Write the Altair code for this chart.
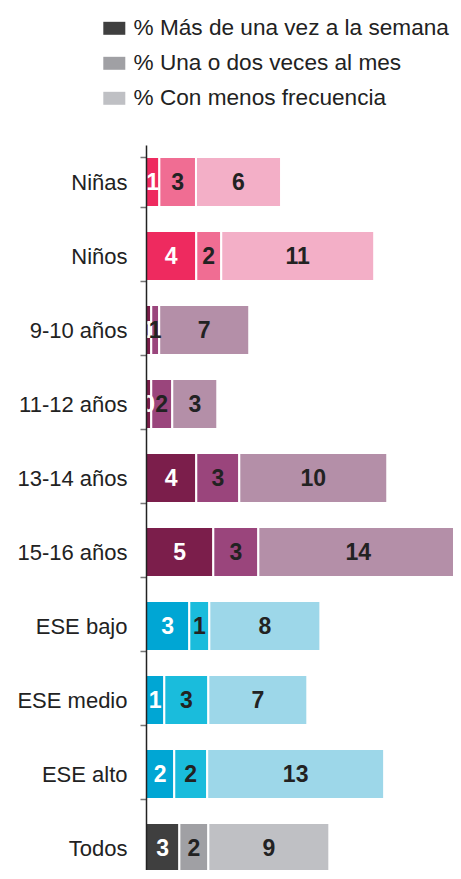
import altair as alt
import pandas as pd

categories = ["Niñas", "Niños", "9-10 años", "11-12 años", "13-14 años",
              "15-16 años", "ESE bajo", "ESE medio", "ESE alto", "Todos"]
series = ["% Más de una vez a la semana", "% Una o dos veces al mes",
          "% Con menos frecuencia"]

v_semana = [0.94, 3.54, 0.37, 0.37, 3.54, 4.74, 3.05, 1.29, 1.99, 2.35]
v_mes = [2.58, 1.76, 0.56, 1.48, 3.03, 3.17, 1.41, 3.10, 2.32, 2.04]
v_menos = [5.99, 10.77, 6.34, 3.17, 10.42, 14.08, 7.82, 6.97, 12.46, 8.52]

lab_semana = ["1", "4", "1", "0", "4", "5", "3", "1", "2", "3"]
lab_mes = ["3", "2", "1", "2", "3", "3", "1", "3", "2", "2"]
lab_menos = ["6", "11", "7", "3", "10", "14", "8", "7", "13", "9"]

groups = ["sexo", "sexo", "edad", "edad", "edad", "edad", "ese", "ese", "ese", "todos"]
group_colors = {
    "sexo": ["#ee2a5f", "#f06d93", "#f3afc7"],
    "edad": ["#7b1e4b", "#9a457c", "#b48fa8"],
    "ese": ["#00a6d4", "#1abcdc", "#9dd7e9"],
    "todos": ["#3f3f3f", "#a0a0a4", "#bfc0c4"],
}
legend_colors = ["#3f3f3f", "#a0a0a4", "#bfc0c4"]
text_colors = ["#ffffff", "#222222", "#222222"]

rows = []
vals = [v_semana, v_mes, v_menos]
labs = [lab_semana, lab_mes, lab_menos]
for i, cat in enumerate(categories):
    for s in range(3):
        rows.append({
            "categoria": cat,
            "serie": series[s],
            "orden": s,
            "valor": vals[s][i],
            "etiqueta": labs[s][i],
            "color": group_colors[groups[i]][s],
            "tcolor": text_colors[s],
        })
df = pd.DataFrame(rows)

FONT = "Liberation Sans"

base = alt.Chart(df).transform_stack(
    stack="valor", groupby=["categoria"], sort=[alt.SortField("orden")],
    as_=["v0", "v1"]
).transform_calculate(mid="(datum.v0 + datum.v1) / 2")

yenc = alt.Y(
    "categoria:N", sort=categories, title=None,
    scale=alt.Scale(paddingInner=0.324, paddingOuter=0.162, range=[0, 740]),
    axis=alt.Axis(
        labelFont=FONT, labelFontSize=22, labelColor="#222222",
        labelPadding=13, tickSize=6, tickColor="#777777", tickWidth=1.5,
        domainColor="#222222", domainWidth=1.5, tickBand="extent",
        zindex=1, labelLimit=200,
    ),
)
xscale = alt.Scale(domain=[0, 21.62], nice=False, zero=True)

bars = base.mark_bar(stroke="white", strokeWidth=2).encode(
    x=alt.X("v0:Q", scale=xscale, axis=None),
    x2="v1:Q",
    y=yenc,
    color=alt.Color("color:N", scale=None),
)

texts = base.mark_text(
    font=FONT, fontSize=23, fontWeight="bold", align="center", baseline="middle", dy=1
).encode(
    x=alt.X("mid:Q", scale=xscale, axis=None),
    y=alt.Y("categoria:N", sort=categories),
    text="etiqueta:N",
    color=alt.Color("tcolor:N", scale=None),
)

legend_layer = alt.Chart(df).mark_point(filled=True, opacity=0).encode(
    x=alt.X("valor:Q", scale=xscale, axis=None),
    y=alt.Y("categoria:N", sort=categories),
    fill=alt.Fill(
        "serie:N",
        scale=alt.Scale(domain=series, range=legend_colors),
        legend=alt.Legend(
            title=None, orient="none", legendX=-43, legendY=-128,
            labelFont=FONT, labelFontSize=22.6, labelColor="#222222",
            labelLimit=400, labelOffset=8, rowPadding=12,
            symbolType="M-1,-0.59H1V0.59H-1Z", symbolSize=484,
            symbolOpacity=1, symbolStrokeWidth=0,
        ),
    ),
)

chart = alt.layer(bars, texts, legend_layer).resolve_scale(
    color="independent", fill="independent"
).properties(
    width=307, height=725,
    autosize=alt.AutoSizeParams(type="none"),
    padding={"left": 138, "top": 137, "right": 0, "bottom": 0},
).configure_view(stroke=None)

chart.save("out.html", embed_options={"renderer": "svg", "actions": False})
